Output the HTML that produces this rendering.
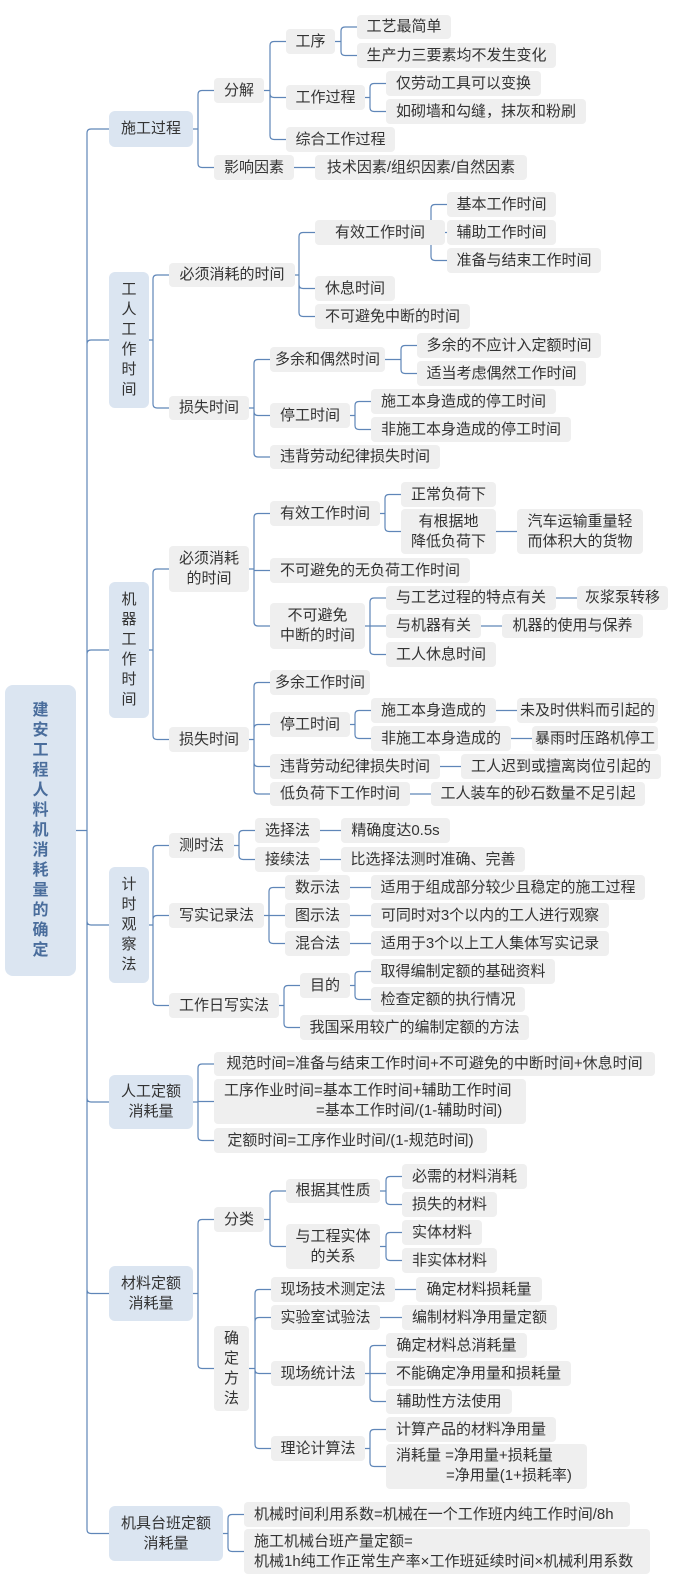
<!DOCTYPE html>
<html><head><meta charset="utf-8">
<style>
html,body{margin:0;padding:0;background:#fff;}
body{width:674px;height:1591px;position:relative;overflow:hidden;font-family:"Liberation Sans","Noto Sans CJK SC",sans-serif;}
.n{position:absolute;box-sizing:border-box;display:flex;align-items:center;justify-content:center;background:#efefef;border-radius:4px;font-size:15px;line-height:20px;color:#333;white-space:nowrap;text-align:center;}
.l1{background:#dbe5f1;border-radius:6px;}
.rt{background:#dbe5f1;border-radius:8px;color:#4a6d9c;font-weight:bold;font-size:16px;line-height:20px;}
.lf{justify-content:flex-start;text-align:left;padding-left:10px;}
svg{position:absolute;left:0;top:0;}
</style></head><body>
<svg id="sv" width="674" height="1591"></svg>

<div class="n rt" id="r" style="left:5px;top:685px;width:71px;height:291px">建<br>安<br>工<br>程<br>人<br>料<br>机<br>消<br>耗<br>量<br>的<br>确<br>定</div>

<div class="n l1" id="a" style="left:109px;top:111px;width:84px;height:36px">施工过程</div>
<div class="n" id="a1" style="left:214px;top:78px;width:50px;height:25px">分解</div>
<div class="n" id="a11" style="left:286px;top:29px;width:49px;height:25px">工序</div>
<div class="n" id="a111" style="left:357px;top:15px;width:94px;height:24px">工艺最简单</div>
<div class="n" id="a112" style="left:357px;top:43px;width:199px;height:25px">生产力三要素均不发生变化</div>
<div class="n" id="a12" style="left:286px;top:85px;width:79px;height:25px">工作过程</div>
<div class="n" id="a121" style="left:386px;top:71px;width:155px;height:25px">仅劳动工具可以变换</div>
<div class="n" id="a122" style="left:386px;top:99px;width:200px;height:25px">如砌墙和勾缝，抹灰和粉刷</div>
<div class="n" id="a13" style="left:286px;top:127px;width:109px;height:25px">综合工作过程</div>
<div class="n" id="a2" style="left:214px;top:155px;width:80px;height:25px">影响因素</div>
<div class="n" id="a21" style="left:315px;top:155px;width:212px;height:25px">技术因素/组织因素/自然因素</div>

<div class="n l1" id="b" style="left:109px;top:272px;width:40px;height:136px">工<br>人<br>工<br>作<br>时<br>间</div>
<div class="n" id="b1" style="left:169px;top:263px;width:126px;height:24px">必须消耗的时间</div>
<div class="n" id="b11" style="left:315px;top:220px;width:130px;height:25px">有效工作时间</div>
<div class="n" id="b111" style="left:447px;top:192px;width:109px;height:25px">基本工作时间</div>
<div class="n" id="b112" style="left:447px;top:220px;width:109px;height:25px">辅助工作时间</div>
<div class="n" id="b113" style="left:447px;top:248px;width:154px;height:25px">准备与结束工作时间</div>
<div class="n" id="b12" style="left:315px;top:276px;width:80px;height:25px">休息时间</div>
<div class="n" id="b13" style="left:315px;top:304px;width:155px;height:25px">不可避免中断的时间</div>
<div class="n" id="b2" style="left:169px;top:396px;width:80px;height:24px">损失时间</div>
<div class="n" id="b21" style="left:270px;top:347px;width:115px;height:25px">多余和偶然时间</div>
<div class="n" id="b211" style="left:417px;top:333px;width:184px;height:25px">多余的不应计入定额时间</div>
<div class="n" id="b212" style="left:417px;top:361px;width:169px;height:25px">适当考虑偶然工作时间</div>
<div class="n" id="b22" style="left:270px;top:403px;width:80px;height:25px">停工时间</div>
<div class="n" id="b221" style="left:371px;top:389px;width:185px;height:25px">施工本身造成的停工时间</div>
<div class="n" id="b222" style="left:371px;top:417px;width:200px;height:25px">非施工本身造成的停工时间</div>
<div class="n" id="b23" style="left:270px;top:445px;width:170px;height:24px">违背劳动纪律损失时间</div>

<div class="n l1" id="c" style="left:109px;top:582px;width:40px;height:136px">机<br>器<br>工<br>作<br>时<br>间</div>
<div class="n" id="c1" style="left:169px;top:546px;width:80px;height:46px">必须消耗<br>的时间</div>
<div class="n" id="c11" style="left:270px;top:501px;width:110px;height:25px">有效工作时间</div>
<div class="n" id="c111" style="left:401px;top:482px;width:95px;height:25px">正常负荷下</div>
<div class="n" id="c112" style="left:401px;top:509px;width:95px;height:45px">有根据地<br>降低负荷下</div>
<div class="n" id="c1121" style="left:517px;top:509px;width:126px;height:45px">汽车运输重量轻<br>而体积大的货物</div>
<div class="n" id="c12" style="left:270px;top:558px;width:200px;height:25px">不可避免的无负荷工作时间</div>
<div class="n" id="c13" style="left:270px;top:603px;width:95px;height:46px">不可避免<br>中断的时间</div>
<div class="n" id="c131" style="left:386px;top:586px;width:170px;height:24px">与工艺过程的特点有关</div>
<div class="n" id="c1311" style="left:577px;top:586px;width:91px;height:24px">灰浆泵转移</div>
<div class="n" id="c132" style="left:386px;top:614px;width:95px;height:24px">与机器有关</div>
<div class="n" id="c1321" style="left:502px;top:614px;width:141px;height:24px">机器的使用与保养</div>
<div class="n" id="c133" style="left:386px;top:642px;width:110px;height:25px">工人休息时间</div>
<div class="n" id="c2" style="left:169px;top:727px;width:80px;height:25px">损失时间</div>
<div class="n" id="c21" style="left:270px;top:670px;width:100px;height:25px">多余工作时间</div>
<div class="n" id="c22" style="left:270px;top:712px;width:80px;height:25px">停工时间</div>
<div class="n" id="c221" style="left:371px;top:698px;width:125px;height:25px">施工本身造成的</div>
<div class="n" id="c2211" style="left:517px;top:698px;width:141px;height:25px">未及时供料而引起的</div>
<div class="n" id="c222" style="left:371px;top:726px;width:140px;height:25px">非施工本身造成的</div>
<div class="n" id="c2221" style="left:532px;top:726px;width:126px;height:25px">暴雨时压路机停工</div>
<div class="n" id="c23" style="left:270px;top:754px;width:170px;height:25px">违背劳动纪律损失时间</div>
<div class="n" id="c231" style="left:461px;top:754px;width:200px;height:25px">工人迟到或擅离岗位引起的</div>
<div class="n" id="c24" style="left:270px;top:782px;width:140px;height:24px">低负荷下工作时间</div>
<div class="n" id="c241" style="left:431px;top:782px;width:214px;height:24px">工人装车的砂石数量不足引起</div>

<div class="n l1" id="d" style="left:109px;top:867px;width:40px;height:116px">计<br>时<br>观<br>察<br>法</div>
<div class="n" id="d1" style="left:169px;top:833px;width:65px;height:25px">测时法</div>
<div class="n" id="d11" style="left:255px;top:818px;width:65px;height:25px">选择法</div>
<div class="n" id="d111" style="left:341px;top:818px;width:109px;height:25px">精确度达0.5s</div>
<div class="n" id="d12" style="left:255px;top:847px;width:65px;height:25px">接续法</div>
<div class="n" id="d121" style="left:341px;top:847px;width:184px;height:25px">比选择法测时准确、完善</div>
<div class="n" id="d2" style="left:169px;top:903px;width:95px;height:25px">写实记录法</div>
<div class="n" id="d21" style="left:285px;top:875px;width:65px;height:25px">数示法</div>
<div class="n" id="d211" style="left:371px;top:875px;width:274px;height:25px">适用于组成部分较少且稳定的施工过程</div>
<div class="n" id="d22" style="left:285px;top:903px;width:65px;height:25px">图示法</div>
<div class="n" id="d221" style="left:371px;top:903px;width:238px;height:25px">可同时对3个以内的工人进行观察</div>
<div class="n" id="d23" style="left:285px;top:931px;width:65px;height:25px">混合法</div>
<div class="n" id="d231" style="left:371px;top:931px;width:238px;height:25px">适用于3个以上工人集体写实记录</div>
<div class="n" id="d3" style="left:169px;top:993px;width:110px;height:25px">工作日写实法</div>
<div class="n" id="d31" style="left:300px;top:973px;width:50px;height:25px">目的</div>
<div class="n" id="d311" style="left:371px;top:959px;width:184px;height:25px">取得编制定额的基础资料</div>
<div class="n" id="d312" style="left:371px;top:987px;width:154px;height:25px">检查定额的执行情况</div>
<div class="n" id="d32" style="left:300px;top:1015px;width:229px;height:25px">我国采用较广的编制定额的方法</div>

<div class="n l1" id="e" style="left:109px;top:1075px;width:84px;height:54px">人工定额<br>消耗量</div>
<div class="n" id="e1" style="left:214px;top:1052px;width:441px;height:24px">规范时间=准备与结束工作时间+不可避免的中断时间+休息时间</div>
<div class="n lf" id="e2" style="left:214px;top:1079px;width:312px;height:45px;display:block;padding-top:2px">工序作业时间=基本工作时间+辅助工作时间<br><span style="padding-left:92px">=基本工作时间/(1-辅助时间)</span></div>
<div class="n" id="e3" style="left:214px;top:1128px;width:273px;height:25px">定额时间=工序作业时间/(1-规范时间)</div>

<div class="n l1" id="f" style="left:109px;top:1266px;width:84px;height:55px">材料定额<br>消耗量</div>
<div class="n" id="f1" style="left:214px;top:1207px;width:50px;height:25px">分类</div>
<div class="n" id="f11" style="left:286px;top:1179px;width:94px;height:24px">根据其性质</div>
<div class="n" id="f111" style="left:402px;top:1164px;width:125px;height:25px">必需的材料消耗</div>
<div class="n" id="f112" style="left:402px;top:1192px;width:95px;height:25px">损失的材料</div>
<div class="n" id="f12" style="left:286px;top:1224px;width:94px;height:45px">与工程实体<br>的关系</div>
<div class="n" id="f121" style="left:402px;top:1220px;width:80px;height:25px">实体材料</div>
<div class="n" id="f122" style="left:402px;top:1248px;width:95px;height:25px">非实体材料</div>
<div class="n" id="f2" style="left:214px;top:1326px;width:35px;height:85px">确<br>定<br>方<br>法</div>
<div class="n" id="f21" style="left:271px;top:1277px;width:124px;height:25px">现场技术测定法</div>
<div class="n" id="f211" style="left:416px;top:1277px;width:126px;height:25px">确定材料损耗量</div>
<div class="n" id="f22" style="left:271px;top:1305px;width:109px;height:25px">实验室试验法</div>
<div class="n" id="f221" style="left:402px;top:1305px;width:155px;height:25px">编制材料净用量定额</div>
<div class="n" id="f23" style="left:271px;top:1361px;width:94px;height:25px">现场统计法</div>
<div class="n" id="f231" style="left:386px;top:1333px;width:141px;height:25px">确定材料总消耗量</div>
<div class="n" id="f232" style="left:386px;top:1361px;width:185px;height:25px">不能确定净用量和损耗量</div>
<div class="n" id="f233" style="left:386px;top:1389px;width:126px;height:25px">辅助性方法使用</div>
<div class="n" id="f24" style="left:271px;top:1436px;width:94px;height:25px">理论计算法</div>
<div class="n" id="f241" style="left:386px;top:1417px;width:170px;height:25px">计算产品的材料净用量</div>
<div class="n lf" id="f242" style="left:386px;top:1444px;width:201px;height:45px;display:block;padding-top:2px">消耗量 =净用量+损耗量<br><span style="padding-left:50px">=净用量(1+损耗率)</span></div>

<div class="n l1" id="g" style="left:109px;top:1506px;width:114px;height:55px">机具台班定额<br>消耗量</div>
<div class="n lf" id="g1" style="left:244px;top:1502px;width:386px;height:25px">机械时间利用系数=机械在一个工作班内纯工作时间/8h</div>
<div class="n lf" id="g2" style="left:244px;top:1529px;width:406px;height:45px">施工机械台班产量定额=<br>机械1h纯工作正常生产率×工作班延续时间×机械利用系数</div>

<script>
var E={r:"a b c d e f g",a:"a1 a2",a1:"a11 a12 a13",a11:"a111 a112",a12:"a121 a122",a2:"a21",
b:"b1 b2",b1:"b11 b12 b13",b11:"b111 b112 b113",b2:"b21 b22 b23",b21:"b211 b212",b22:"b221 b222",
c:"c1 c2",c1:"c11 c12 c13",c11:"c111 c112",c112:"c1121",c13:"c131 c132 c133",c131:"c1311",c132:"c1321",
c2:"c21 c22 c23 c24",c22:"c221 c222",c221:"c2211",c222:"c2221",c23:"c231",c24:"c241",
d:"d1 d2 d3",d1:"d11 d12",d11:"d111",d12:"d121",d2:"d21 d22 d23",d21:"d211",d22:"d221",d23:"d231",d3:"d31 d32",d31:"d311 d312",
e:"e1 e2 e3",f:"f1 f2",f1:"f11 f12",f11:"f111 f112",f12:"f121 f122",f2:"f21 f22 f23 f24",f21:"f211",f22:"f221",f23:"f231 f232 f233",f24:"f241 f242",
g:"g1 g2"};
var d="";
function box(id){var el=document.getElementById(id);return {x1:el.offsetLeft,y1:el.offsetTop,x2:el.offsetLeft+el.offsetWidth,cy:el.offsetTop+el.offsetHeight/2};}
for(var p in E){var P=box(p);var kids=E[p].split(" ");
 for(var i=0;i<kids.length;i++){var C=box(kids[i]);
  var bx=(p=="r")?87:C.x1-16;var r=4;var dy=C.cy-P.cy;
  if(Math.abs(dy)<r+1){d+="M"+P.x2+" "+P.cy+"H"+bx+"V"+C.cy+"H"+C.x1;}
  else{var s=dy>0?1:-1;d+="M"+P.x2+" "+P.cy+"H"+bx+"V"+(C.cy-s*r)+"Q"+bx+" "+C.cy+" "+(bx+r)+" "+C.cy+"H"+C.x1;}
 }}
document.getElementById("sv").innerHTML='<path d="'+d+'" fill="none" stroke="#5f86b8" stroke-width="1.2"/>';
</script>
</body></html>
